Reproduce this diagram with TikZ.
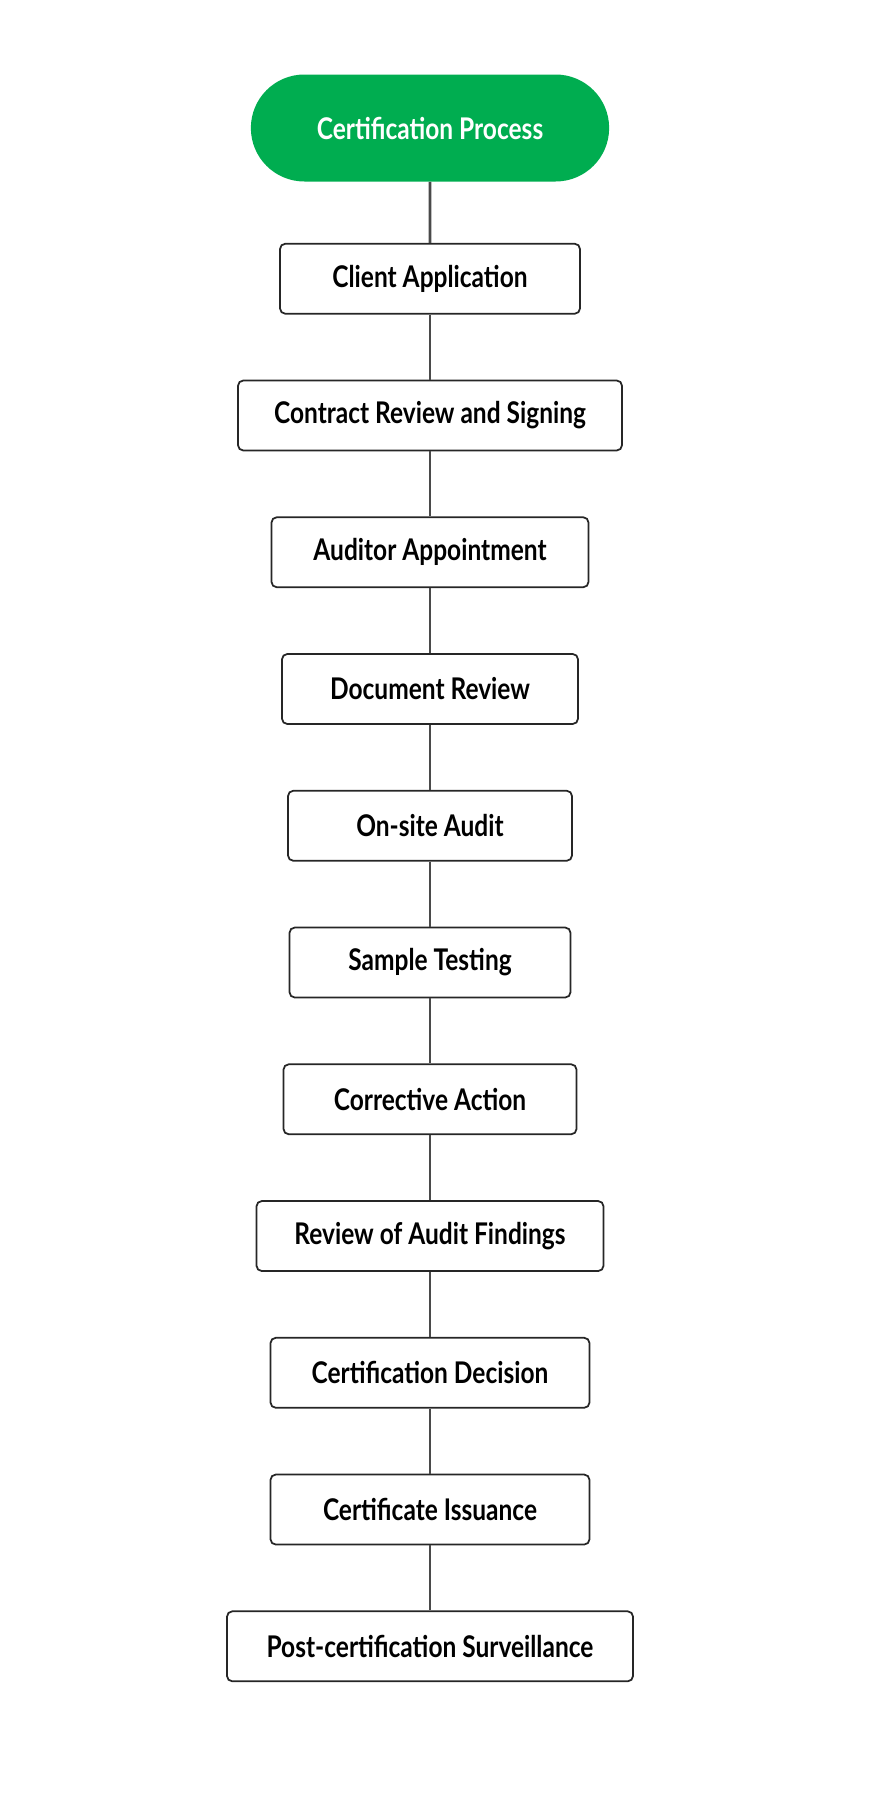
\documentclass[tikz,border=0pt]{standalone}
\usepackage{fontspec}
\setmainfont{Lato}[UprightFont=* Bold, FakeStretch=0.82]
\usetikzlibrary{positioning, shapes.misc}
\definecolor{startgreen}{HTML}{00AD50}
\definecolor{linegray}{HTML}{4A4A4A}

\tikzset{
  start/.style={rounded rectangle, fill=startgreen, text=white, minimum width=7.4cm, minimum height=2.14cm, font=\fontsize{17}{20}\selectfont},
  stage/.style={draw=black!85, line width=1pt, rounded corners=3pt, fill=white, minimum height=1.4cm, font=\fontsize{17}{20}\selectfont},
  link/.style={draw=linegray, line width=1.6pt}
}

\begin{document}
\begin{tikzpicture}[node distance=1.3cm]
\useasboundingbox (0,0) rectangle (17.44,-36.08);

% start
\node [start] (proc) at (8.6,-2.56) {Certification Process};

% stages
\node [stage, minimum width=6.0cm, below=1.22cm of proc] (appl) {Client Application};
\node [stage, minimum width=7.68cm, below=of appl] (contract) {Contract Review and Signing};
\node [stage, minimum width=6.34cm, below=of contract] (auditor) {Auditor Appointment};
\node [stage, minimum width=5.92cm, below=of auditor] (docrev) {Document Review};
\node [stage, minimum width=5.68cm, below=of docrev] (onsite) {On-site Audit};
\node [stage, minimum width=5.62cm, below=of onsite] (sample) {Sample Testing};
\node [stage, minimum width=5.86cm, below=of sample] (corrective) {Corrective Action};
\node [stage, minimum width=6.94cm, below=of corrective] (findings) {Review of Audit Findings};
\node [stage, minimum width=6.38cm, below=of findings] (decision) {Certification Decision};
\node [stage, minimum width=6.38cm, below=of decision] (issue) {Certificate Issuance};
\node [stage, minimum width=8.12cm, below=of issue] (surveil) {Post-certification Surveillance};

% links
\foreach \a/\b in {proc/appl, appl/contract, contract/auditor, auditor/docrev, docrev/onsite, onsite/sample, sample/corrective, corrective/findings, findings/decision, decision/issue, issue/surveil}
  \draw [link] (\a) -- (\b);

\end{tikzpicture}
\end{document}
